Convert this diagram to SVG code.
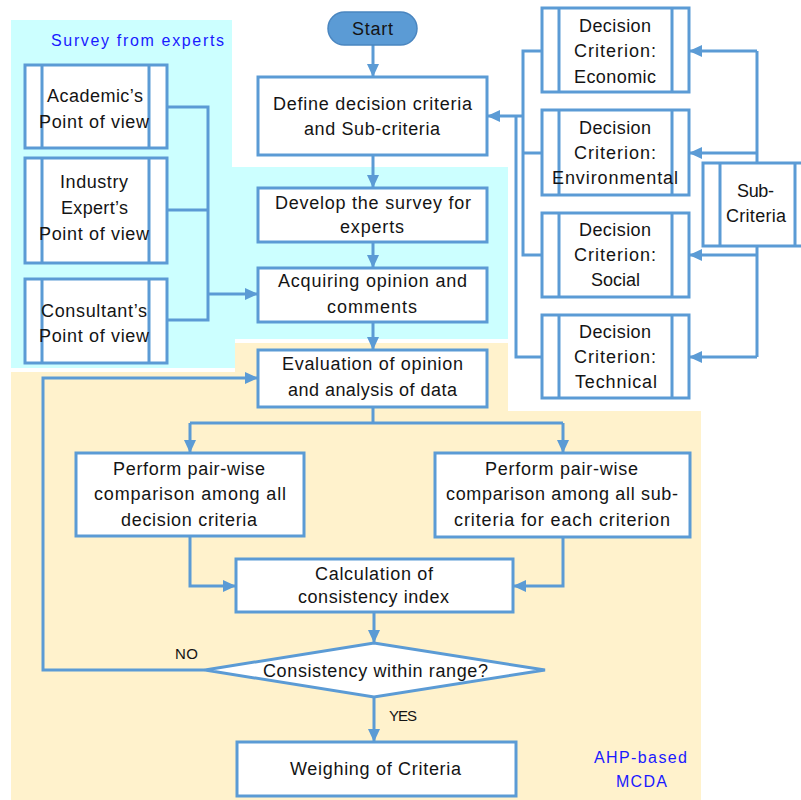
<svg xmlns="http://www.w3.org/2000/svg" width="801" height="800" viewBox="0 0 801 800">
<defs>
<marker id="ah" markerUnits="userSpaceOnUse" markerWidth="13" markerHeight="12" refX="13" refY="6" orient="auto">
<path d="M0,0 L13,6 L0,12 z" fill="#5b9bd5"/>
</marker>
<style>
.box{fill:#fff;stroke:#5b9bd5;stroke-width:3}
.ln{fill:none;stroke:#5b9bd5;stroke-width:3}
.t{font-family:"Liberation Sans",Arial,sans-serif;font-size:18px;fill:#141414;text-anchor:start}
.b{font-family:"Liberation Sans",Arial,sans-serif;font-size:16px;fill:#1a1aff}
.c{fill:none;stroke:#5b9bd5;stroke-width:3}
.c2{fill:none;stroke:#5b9bd5;stroke-width:3;marker-end:url(#ah)}
</style>
</defs>
<rect width="801" height="800" fill="#fff"/>
<polygon points="11,20 232,20 232,167 508,167 508,339 235,339 235,368 11,368" fill="#ccffff"/>
<polygon points="11,372 235,372 235,343 508,343 508,411 701,411 701,800 11,800" fill="#fff2cc"/>
<text class="b" x="51" y="46" textLength="173" lengthAdjust="spacing">Survey from experts</text>
<text class="b" x="594" y="763" textLength="93" lengthAdjust="spacing">AHP-based</text>
<text class="b" x="616" y="787" textLength="51" lengthAdjust="spacing">MCDA</text>

<g id="connectors">
<path class="c2" d="M373,45 V77"/>
<path class="c2" d="M373,155 V188"/>
<path class="c2" d="M373,242 V268"/>
<path class="c2" d="M373,322 V350"/>
<path class="c" d="M167,107 H208 V320 H167 M167,210 H208"/>
<path class="c2" d="M208,294 H258"/>
<path class="c" d="M542,51 H523 V255 H542 M523,153 H542 M542,357 H516 V116"/>
<path class="c2" d="M523,116 H487"/>
<path class="c" d="M757,163 V51"/>
<path class="c2" d="M757,51 H689"/>
<path class="c2" d="M757,153 H689"/>
<path class="c" d="M757,246 V357"/>
<path class="c2" d="M757,357 H689"/>
<path class="c2" d="M757,255 H689"/>
<path class="c" d="M373,407 V423 M190,423 H563"/>
<path class="c2" d="M190,423 V453"/>
<path class="c2" d="M563,423 V453"/>
<path class="c2" d="M190,536 V586 H236"/>
<path class="c2" d="M563,537 V586 H513"/>
<path class="c2" d="M374,612 V643"/>
<path class="c2" d="M205,670 H43 V378 H258"/>
<path class="c2" d="M374,697 V742"/>
</g>

<g id="start">
<rect x="328" y="12" width="89" height="33" rx="16.5" fill="#5b9bd5" stroke="#4a86c0" stroke-width="1.5"/>
<text class="t" x="352" y="35" textLength="41" lengthAdjust="spacing">Start</text>
</g>
<g id="define">
<rect class="box" x="258" y="77" width="229" height="78"/>
<text class="t" x="273" y="110" textLength="199" lengthAdjust="spacing">Define decision criteria</text>
<text class="t" x="304" y="135" textLength="136" lengthAdjust="spacing">and Sub-criteria</text>
</g>
<g id="develop">
<rect class="box" x="258" y="188" width="229" height="54"/>
<text class="t" x="275" y="209" textLength="196" lengthAdjust="spacing">Develop the survey for</text>
<text class="t" x="340" y="233" textLength="64" lengthAdjust="spacing">experts</text>
</g>
<g id="acquiring">
<rect class="box" x="258" y="268" width="229" height="54"/>
<text class="t" x="278" y="287" textLength="189" lengthAdjust="spacing">Acquiring opinion and</text>
<text class="t" x="327" y="313" textLength="90" lengthAdjust="spacing">comments</text>
</g>
<g id="evaluation">
<rect class="box" x="258" y="350" width="229" height="57"/>
<text class="t" x="282" y="370" textLength="181" lengthAdjust="spacing">Evaluation of opinion</text>
<text class="t" x="288" y="396" textLength="169" lengthAdjust="spacing">and analysis of data</text>
</g>

<g id="academic">
<rect class="box" x="25" y="65" width="142" height="83"/>
<path class="ln" d="M42,65 V148 M149,65 V148"/>
<text class="t" x="47" y="102" textLength="96" lengthAdjust="spacing">Academic’s</text>
<text class="t" x="39" y="128" textLength="110" lengthAdjust="spacing">Point of view</text>
</g>
<g id="industry">
<rect class="box" x="25" y="158" width="142" height="105"/>
<path class="ln" d="M42,158 V263 M149,158 V263"/>
<text class="t" x="60" y="188" textLength="68" lengthAdjust="spacing">Industry</text>
<text class="t" x="61" y="214" textLength="67" lengthAdjust="spacing">Expert’s</text>
<text class="t" x="39" y="240" textLength="110" lengthAdjust="spacing">Point of view</text>
</g>
<g id="consultant">
<rect class="box" x="25" y="279" width="142" height="84"/>
<path class="ln" d="M42,279 V363 M149,279 V363"/>
<text class="t" x="41" y="317" textLength="106" lengthAdjust="spacing">Consultant’s</text>
<text class="t" x="39" y="342" textLength="110" lengthAdjust="spacing">Point of view</text>
</g>

<g id="economic">
<rect class="box" x="542" y="8" width="147" height="84"/>
<path class="ln" d="M559,8 V92 M672,8 V92"/>
<text class="t" x="579" y="32" textLength="72" lengthAdjust="spacing">Decision</text>
<text class="t" x="574" y="57" textLength="82" lengthAdjust="spacing">Criterion:</text>
<text class="t" x="574" y="83" textLength="82" lengthAdjust="spacing">Economic</text>
</g>
<g id="environmental">
<rect class="box" x="542" y="110" width="147" height="85"/>
<path class="ln" d="M559,110 V195 M672,110 V195"/>
<text class="t" x="579" y="134" textLength="72" lengthAdjust="spacing">Decision</text>
<text class="t" x="574" y="159" textLength="82" lengthAdjust="spacing">Criterion:</text>
<text class="t" x="552" y="184" textLength="126" lengthAdjust="spacing">Environmental</text>
</g>
<g id="social">
<rect class="box" x="542" y="213" width="147" height="84"/>
<path class="ln" d="M559,213 V297 M672,213 V297"/>
<text class="t" x="579" y="236" textLength="72" lengthAdjust="spacing">Decision</text>
<text class="t" x="574" y="261" textLength="82" lengthAdjust="spacing">Criterion:</text>
<text class="t" x="591" y="286" textLength="49" lengthAdjust="spacing">Social</text>
</g>
<g id="technical">
<rect class="box" x="542" y="315" width="147" height="83"/>
<path class="ln" d="M559,315 V398 M672,315 V398"/>
<text class="t" x="579" y="338" textLength="72" lengthAdjust="spacing">Decision</text>
<text class="t" x="574" y="363" textLength="82" lengthAdjust="spacing">Criterion:</text>
<text class="t" x="575" y="388" textLength="82" lengthAdjust="spacing">Technical</text>
</g>
<g id="subcriteria">
<rect class="box" x="703" y="163" width="100" height="83"/>
<path class="ln" d="M720,163 V246 M795,163 V246"/>
<text class="t" x="737" y="197" textLength="37" lengthAdjust="spacing">Sub-</text>
<text class="t" x="726" y="222" textLength="60" lengthAdjust="spacing">Criteria</text>
</g>

<g id="pairwise-criteria">
<rect class="box" x="76" y="453" width="228" height="83"/>
<text class="t" x="113" y="475" textLength="152" lengthAdjust="spacing">Perform pair-wise</text>
<text class="t" x="94" y="500" textLength="192" lengthAdjust="spacing">comparison among all</text>
<text class="t" x="121" y="526" textLength="136" lengthAdjust="spacing">decision criteria</text>
</g>
<g id="pairwise-sub">
<rect class="box" x="435" y="453" width="255" height="84"/>
<text class="t" x="485" y="475" textLength="153" lengthAdjust="spacing">Perform pair-wise</text>
<text class="t" x="446" y="500" textLength="232" lengthAdjust="spacing">comparison among all sub-</text>
<text class="t" x="454" y="526" textLength="216" lengthAdjust="spacing">criteria for each criterion</text>
</g>
<g id="calculation">
<rect class="box" x="236" y="559" width="277" height="53"/>
<text class="t" x="315" y="580" textLength="118" lengthAdjust="spacing">Calculation of</text>
<text class="t" x="298" y="603" textLength="151" lengthAdjust="spacing">consistency index</text>
</g>
<g id="decision">
<polygon class="box" points="205,670 374,643 545,670 374,697"/>
<text class="t" x="263" y="677" textLength="225" lengthAdjust="spacing">Consistency within range?</text>
<text class="t" x="175" y="659" style="font-size:15px" textLength="23" lengthAdjust="spacing">NO</text>
<text class="t" x="389" y="721" style="font-size:15px" textLength="28" lengthAdjust="spacing">YES</text>
</g>
<g id="weighing">
<rect class="box" x="237" y="742" width="279" height="54"/>
<text class="t" x="290" y="775" textLength="171" lengthAdjust="spacing">Weighing of Criteria</text>
</g>
</svg>
